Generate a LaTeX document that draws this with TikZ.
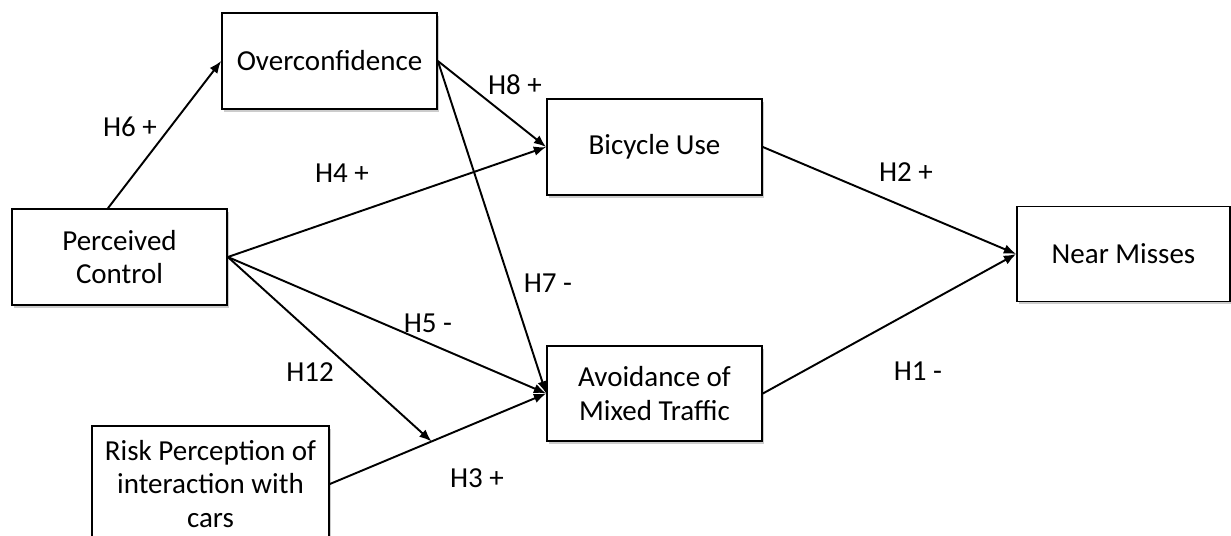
\documentclass[tikz,border=0pt]{standalone}
\usepackage{fontspec}
\setmainfont{Carlito}
\usetikzlibrary{arrows.meta,shadows}

\tikzset{
	box/.style={shape=rectangle, draw=black, line width=1pt, fill=white, align=center,
		minimum width=4.3cm, minimum height=1.92cm, inner sep=2pt,
		drop shadow={shadow xshift=1.2pt, shadow yshift=-1.5pt, fill=black!40, opacity=0.5}},
	link/.style={-{Latex[length=7pt,width=5.5pt]}, line width=1.1pt}
}

\begin{document}
\begin{tikzpicture}[x=0.02cm, y=-0.02cm, font=\fontsize{16.5}{19}\selectfont]
	
	\useasboundingbox (0,0) rectangle (1231,535);
	\clip (0,0) rectangle (1231,535);
	
	\node[box] (over)  at (329.5, 61)   {Overconfidence};
	\node[box] (bike)  at (654.5, 147)  {Bicycle Use};
	\node[box, minimum height=1.9cm] (avoid) at (654.5, 393.5) {Avoidance of\\Mixed Traffic};
	\node[box, minimum width=4.26cm, minimum height=1.9cm] (near) at (1123.5, 254) {Near Misses};
	\node[box] (perc)  at (119.5, 257)  {Perceived\\Control};
	\node[box, minimum width=4.74cm, minimum height=2.32cm] (risk) at (210.5, 484) {Risk Perception of\\interaction with\\cars};
	
	\path[link] ([xshift=-0.23cm]perc.north) edge (over.west);
	\path[link] (over.east) edge (bike.west);
	\path[link] (over.east) edge (avoid.west);
	\path[link] (perc.east) edge (bike.west);
	\path[link] (perc.east) edge (avoid.west);
	\path[link] (risk.east) edge coordinate[pos=0.47] (mod) (avoid.west);
	\path[link] (perc.east) edge (mod);
	\path[link] (bike.east) edge (near.west);
	\path[link] (avoid.east) edge (near.west);
	
	\node (h6)  at (130, 127) {H6 +};
	\node (h8)  at (515, 85)  {H8 +};
	\node (h4)  at (342, 173) {H4 +};
	\node (h2)  at (906, 172) {H2 +};
	\node (h7)  at (548, 283) {H7 -};
	\node (h5)  at (428, 323) {H5 -};
	\node (h12) at (310, 372) {H12};
	\node (h1)  at (918, 371) {H1 -};
	\node (h3)  at (477, 478) {H3 +};
	
\end{tikzpicture}
\end{document}
